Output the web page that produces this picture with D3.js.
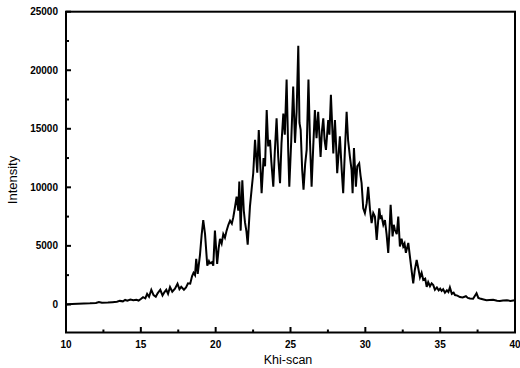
<!DOCTYPE html>
<html>
<head>
<meta charset="utf-8">
<script src="https://cdn.jsdelivr.net/npm/d3@7"></script>
<style>
html,body{margin:0;padding:0;background:#fff;}
svg{display:block;}
</style>
</head>
<body>
<svg id="chart" width="520" height="368"></svg>
<script>
const khi = [10.0,10.4,10.8,11.2,11.6,12.0,12.2,12.4,12.8,13.1,13.4,13.6,13.8,13.95,14.1,14.3,14.5,14.7,14.85,
15.0,15.15,15.3,15.42,15.55,15.7,15.85,16.0,16.12,16.3,16.45,16.58,16.7,16.82,16.95,17.1,17.28,17.45,17.58,17.7,17.88,
18.02,18.15,18.3,18.42,18.52,18.62,18.7,18.8,18.95,19.06,19.17,19.29,19.44,19.55,19.62,19.75,19.84,19.95,
20.1,20.2,20.29,20.4,20.51,20.62,20.73,20.85,20.96,21.08,21.18,21.29,21.4,21.51,21.58,21.67,21.78,21.88,21.96,
22.06,22.14,22.29,22.4,22.51,22.63,22.78,22.88,22.98,23.07,23.2,23.3,23.41,23.51,23.63,23.72,23.85,23.95,
24.07,24.18,24.3,24.4,24.52,24.62,24.74,24.85,24.92,25.05,25.18,25.3,25.41,25.52,25.6,25.68,25.78,25.87,25.98,
26.08,26.2,26.3,26.41,26.52,26.63,26.74,26.85,27.01,27.1,27.19,27.28,27.37,27.52,27.6,27.7,27.86,27.97,
28.05,28.12,28.3,28.42,28.52,28.63,28.75,28.85,28.92,28.97,29.08,29.15,29.24,29.37,29.46,29.59,29.68,29.75,29.86,29.97,
30.09,30.19,30.31,30.42,30.53,30.64,30.76,30.85,30.93,31.01,31.09,31.2,31.31,31.42,31.53,31.62,31.69,31.82,31.9,31.98,
32.1,32.2,32.31,32.42,32.53,32.62,32.71,32.87,33.03,33.12,33.2,33.3,33.43,33.55,33.65,33.76,33.87,34.0,
34.1,34.2,34.32,34.43,34.54,34.65,34.78,34.9,35.0,35.1,35.2,35.32,35.45,35.55,35.65,35.78,35.9,35.99,
36.15,36.32,36.5,36.72,36.85,36.99,37.2,37.43,37.55,37.66,37.9,38.1,38.3,38.54,38.8,38.99,39.2,39.46,39.7,39.88,40.0];

const intensity = [0,40,60,80,90,120,210,150,160,190,220,300,260,380,310,420,360,390,330,
460,620,520,900,650,1250,800,650,950,1250,770,1050,1250,900,1480,1080,1350,1770,1300,1500,1250,
1450,1800,1770,2400,2700,2500,3900,2600,4200,5900,7200,6000,3300,3700,3500,3600,3300,6300,
3450,4800,5600,5200,6000,5700,6300,6800,7150,6900,7450,8300,9200,8000,10500,6300,10600,8000,7000,
6200,5100,8350,9800,11200,14050,11250,14900,12000,9500,12500,11800,16600,13500,14050,12200,10050,13000,
15900,12600,10350,13800,16300,14500,19200,13000,10050,14000,18600,13800,16500,22100,15500,14900,11500,9800,12000,
13200,19200,14000,10050,13500,16600,14200,16450,12600,14800,15900,14000,13200,15750,14500,17900,12900,15750,
13500,11200,14350,11500,9500,13000,16450,14000,13200,12600,11500,9500,13350,10050,11800,12050,11000,10350,8200,7800,
8650,10050,8100,6950,7800,7500,5500,7000,8200,7400,7500,6800,7200,6000,4400,6500,8500,5800,6800,6350,
6000,7500,4950,5600,4950,5200,4400,5250,3550,2600,1800,2900,3800,3000,2300,2700,2100,2200,
1500,1900,1550,1800,1650,1250,1450,1200,1350,1150,1300,1000,1200,1050,1450,900,1000,800,
750,630,600,700,550,500,480,950,550,500,420,350,380,400,320,300,340,350,300,330,350];

const xMajor = [10,15,20,25,30,35,40];
const xMinor = [12.5,17.5,22.5,27.5,32.5,37.5];
const yMajor = [0,5000,10000,15000,20000,25000];
const yMinor = [2500,7500,12500,17500,22500];
const xTitle = "Khi-scan";
const yTitle = "Intensity";

const svg = d3.select("#chart");
const L = 66, R = 515, T = 11.7, B = 332.5;
const x = d3.scaleLinear().domain([10, 40]).range([L, R]);
const y = d3.scaleLinear().domain([-2400, 25000]).range([B, T]);

const font = "'Liberation Sans', Arial, sans-serif";

// data line
const pts = khi.map((k, i) => [k, intensity[i]]);
svg.append("path")
  .datum(pts)
  .attr("fill", "none")
  .attr("stroke", "#000")
  .attr("stroke-width", 2)
  .attr("stroke-linejoin", "miter")
  .attr("d", d3.line().x(d => x(d[0])).y(d => y(d[1])));

// frame
svg.append("rect")
  .attr("x", L).attr("y", T).attr("width", R - L).attr("height", B - T)
  .attr("fill", "none").attr("stroke", "#000").attr("stroke-width", 2);

// y axis (ticks pointing inward)
const yAx = svg.append("g").attr("transform", `translate(${L},0)`);
yAx.selectAll("line.maj").data(yMajor).join("line")
  .attr("x1", 0).attr("x2", 5).attr("y1", d => y(d)).attr("y2", d => y(d))
  .attr("stroke", "#000").attr("stroke-width", 2);
yAx.selectAll("line.min").data(yMinor).join("line")
  .attr("x1", 0).attr("x2", 3).attr("y1", d => y(d)).attr("y2", d => y(d))
  .attr("stroke", "#000").attr("stroke-width", 2);
yAx.selectAll("text").data(yMajor).join("text")
  .attr("x", -8).attr("y", d => y(d)).attr("dy", "0.35em")
  .attr("text-anchor", "end")
  .style("font-family", font).style("font-size", "10px").style("font-weight", "bold")
  .text(d => d);

// x axis
const xAx = svg.append("g").attr("transform", `translate(0,${B})`);
xAx.selectAll("line.maj").data(xMajor).join("line")
  .attr("x1", d => x(d)).attr("x2", d => x(d)).attr("y1", 0).attr("y2", -5.5)
  .attr("stroke", "#000").attr("stroke-width", 2);
xAx.selectAll("line.min").data(xMinor).join("line")
  .attr("x1", d => x(d)).attr("x2", d => x(d)).attr("y1", 0).attr("y2", -3)
  .attr("stroke", "#000").attr("stroke-width", 2);
xAx.selectAll("text").data(xMajor).join("text")
  .attr("x", d => x(d)).attr("y", 15.5)
  .attr("text-anchor", "middle")
  .style("font-family", font).style("font-size", "10px").style("font-weight", "bold")
  .text(d => d);

// titles
svg.append("text")
  .attr("x", 288).attr("y", 363.5)
  .attr("text-anchor", "middle")
  .style("font-family", font).style("font-size", "12.5px")
  .text(xTitle);
svg.append("text")
  .attr("transform", "translate(17,180) rotate(-90)")
  .attr("text-anchor", "middle")
  .style("font-family", font).style("font-size", "13px")
  .text(yTitle);
</script>
</body>
</html>
